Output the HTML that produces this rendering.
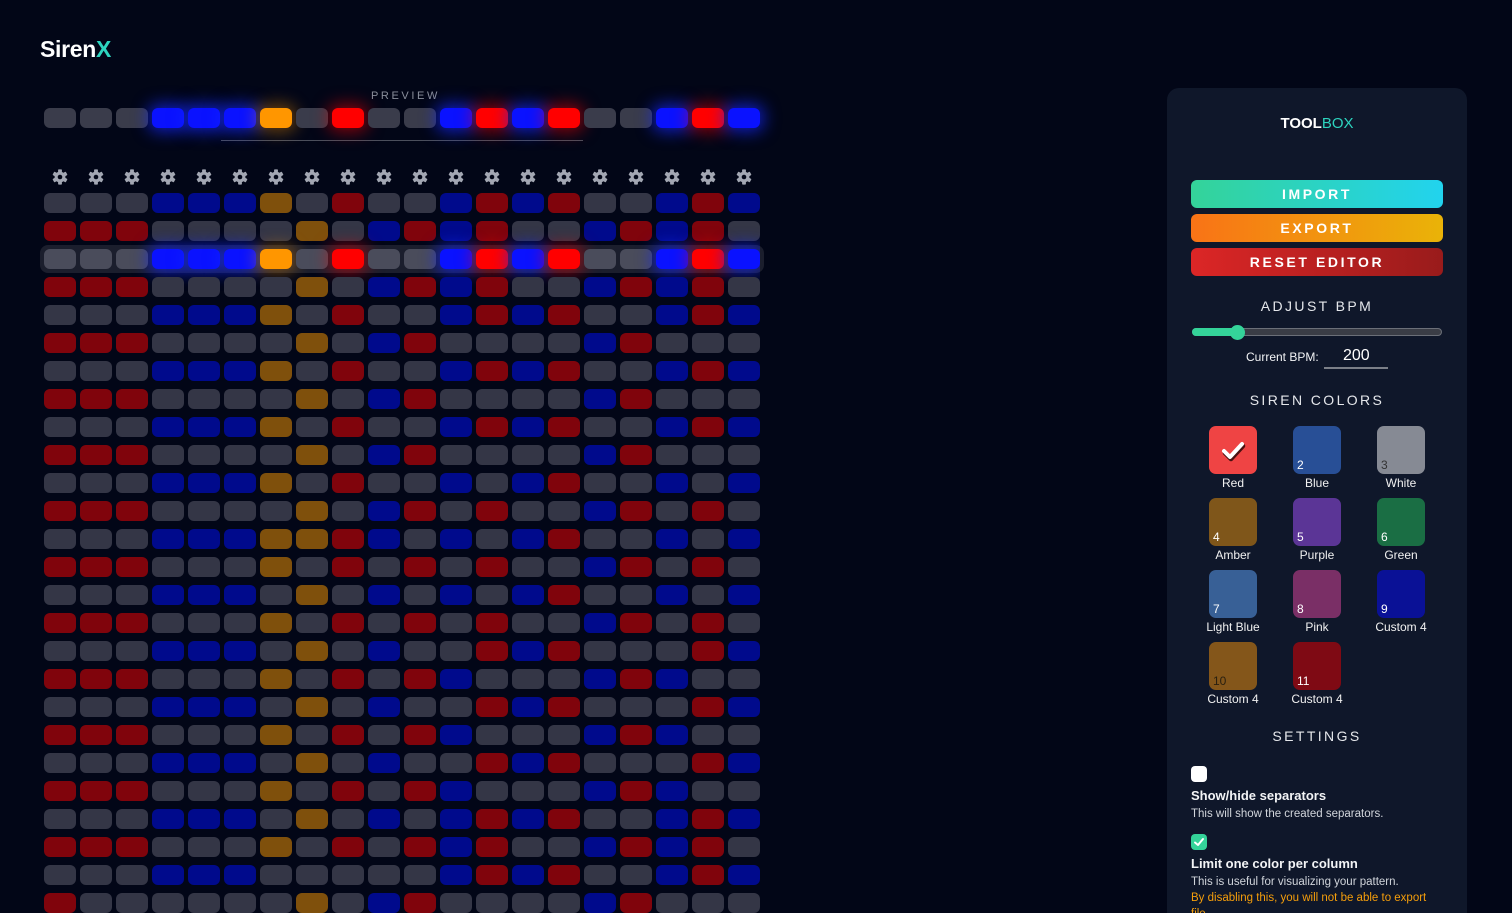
<!DOCTYPE html>
<html><head><meta charset="utf-8">
<style>
*{box-sizing:border-box;margin:0;padding:0}
html,body{width:1512px;height:913px;overflow:hidden;background:#020617;font-family:"Liberation Sans",sans-serif;color:#fff}
#root{position:relative;width:1512px;height:913px;overflow:hidden;background:#020617}
.abs{position:absolute}
.row{display:flex;gap:4px;height:20px;margin-bottom:8px}
.row i{display:block;width:32px;height:20px;border-radius:6px}
.g{background:#343646}.b{background:#000a8c}.r{background:#80040c}.a{background:#7f500c}
.pg{background:#3a3c4b}.pb{background:#0a12ff;box-shadow:0 0 16px 4px rgba(20,40,255,.7)}
.pr{background:#ff0000;box-shadow:0 0 16px 4px rgba(255,0,0,.5)}.pa{background:#ff9600;box-shadow:0 0 16px 4px rgba(255,150,0,.4)}
.hg{background:#4a4c5b}
.btn{position:absolute;left:1191px;width:252px;height:28px;border-radius:6px;text-align:center;font-weight:bold;font-size:14px;letter-spacing:2.6px;line-height:28px;color:#fff}
.hd{position:absolute;left:1167px;width:300px;text-align:center;font-size:14px;letter-spacing:2.4px;color:#e5e7eb}
.sw{position:absolute;width:48px;height:48px;border-radius:7px}
.sw span{position:absolute;left:4px;bottom:2px;font-size:12px;color:#fff}
.lb{position:absolute;width:84px;text-align:center;font-size:12px;color:#f1f1f1}
.st{position:absolute;left:1191px;white-space:nowrap}
</style></head><body><div id="root">

<div class="abs" style="left:40px;top:36px;font-size:23px;font-weight:bold;letter-spacing:-0.3px"><span style="color:#fff">Siren</span><span style="color:#2dd4bf">X</span></div>

<div class="abs" style="left:371px;top:90px;font-size:11px;letter-spacing:2.6px;color:#8a8f9c">PREVIEW</div>
<div class="abs" style="left:221px;top:140px;width:362px;height:1px;background:#4b4f5c"></div>

<div class="abs" style="left:44px;top:108px">
<div class="row"><i class="pg"></i><i class="pg"></i><i class="pg"></i><i class="pb"></i><i class="pb"></i><i class="pb"></i><i class="pa"></i><i class="pg"></i><i class="pr"></i><i class="pg"></i><i class="pg"></i><i class="pb"></i><i class="pr"></i><i class="pb"></i><i class="pr"></i><i class="pg"></i><i class="pg"></i><i class="pb"></i><i class="pr"></i><i class="pb"></i></div>
</div>

<svg class="abs" style="left:0;top:0" width="780" height="200">
<defs><symbol id="gear" viewBox="-8 -8 16 16"><g fill="#a3a7b3"><circle r="5.4"/><rect x="-1.9" y="-7.6" width="3.8" height="15.2" rx="0.7"/><rect x="-1.9" y="-7.6" width="3.8" height="15.2" rx="0.7" transform="rotate(60)"/><rect x="-1.9" y="-7.6" width="3.8" height="15.2" rx="0.7" transform="rotate(120)"/></g><circle r="2.3" fill="#020617"/></symbol></defs>
<use href="#gear" x="52" y="169" width="16" height="16"/><use href="#gear" x="88" y="169" width="16" height="16"/><use href="#gear" x="124" y="169" width="16" height="16"/><use href="#gear" x="160" y="169" width="16" height="16"/><use href="#gear" x="196" y="169" width="16" height="16"/><use href="#gear" x="232" y="169" width="16" height="16"/><use href="#gear" x="268" y="169" width="16" height="16"/><use href="#gear" x="304" y="169" width="16" height="16"/><use href="#gear" x="340" y="169" width="16" height="16"/><use href="#gear" x="376" y="169" width="16" height="16"/><use href="#gear" x="412" y="169" width="16" height="16"/><use href="#gear" x="448" y="169" width="16" height="16"/><use href="#gear" x="484" y="169" width="16" height="16"/><use href="#gear" x="520" y="169" width="16" height="16"/><use href="#gear" x="556" y="169" width="16" height="16"/><use href="#gear" x="592" y="169" width="16" height="16"/><use href="#gear" x="628" y="169" width="16" height="16"/><use href="#gear" x="664" y="169" width="16" height="16"/><use href="#gear" x="700" y="169" width="16" height="16"/><use href="#gear" x="736" y="169" width="16" height="16"/>
</svg>

<div class="abs" style="left:40px;top:245px;width:724px;height:28px;background:#1b1e2d;border-radius:8px"></div>

<div class="abs" style="left:44px;top:193px;height:720px;overflow:hidden">
<div class="row"><i class="g"></i><i class="g"></i><i class="g"></i><i class="b"></i><i class="b"></i><i class="b"></i><i class="a"></i><i class="g"></i><i class="r"></i><i class="g"></i><i class="g"></i><i class="b"></i><i class="r"></i><i class="b"></i><i class="r"></i><i class="g"></i><i class="g"></i><i class="b"></i><i class="r"></i><i class="b"></i></div>
<div class="row"><i class="r"></i><i class="r"></i><i class="r"></i><i class="g"></i><i class="g"></i><i class="g"></i><i class="g"></i><i class="a"></i><i class="g"></i><i class="b"></i><i class="r"></i><i class="b"></i><i class="r"></i><i class="g"></i><i class="g"></i><i class="b"></i><i class="r"></i><i class="b"></i><i class="r"></i><i class="g"></i></div>
<div class="row"><i class="hg"></i><i class="hg"></i><i class="hg"></i><i class="pb"></i><i class="pb"></i><i class="pb"></i><i class="pa"></i><i class="hg"></i><i class="pr"></i><i class="hg"></i><i class="hg"></i><i class="pb"></i><i class="pr"></i><i class="pb"></i><i class="pr"></i><i class="hg"></i><i class="hg"></i><i class="pb"></i><i class="pr"></i><i class="pb"></i></div>
<div class="row"><i class="r"></i><i class="r"></i><i class="r"></i><i class="g"></i><i class="g"></i><i class="g"></i><i class="g"></i><i class="a"></i><i class="g"></i><i class="b"></i><i class="r"></i><i class="b"></i><i class="r"></i><i class="g"></i><i class="g"></i><i class="b"></i><i class="r"></i><i class="b"></i><i class="r"></i><i class="g"></i></div>
<div class="row"><i class="g"></i><i class="g"></i><i class="g"></i><i class="b"></i><i class="b"></i><i class="b"></i><i class="a"></i><i class="g"></i><i class="r"></i><i class="g"></i><i class="g"></i><i class="b"></i><i class="r"></i><i class="b"></i><i class="r"></i><i class="g"></i><i class="g"></i><i class="b"></i><i class="r"></i><i class="b"></i></div>
<div class="row"><i class="r"></i><i class="r"></i><i class="r"></i><i class="g"></i><i class="g"></i><i class="g"></i><i class="g"></i><i class="a"></i><i class="g"></i><i class="b"></i><i class="r"></i><i class="g"></i><i class="g"></i><i class="g"></i><i class="g"></i><i class="b"></i><i class="r"></i><i class="g"></i><i class="g"></i><i class="g"></i></div>
<div class="row"><i class="g"></i><i class="g"></i><i class="g"></i><i class="b"></i><i class="b"></i><i class="b"></i><i class="a"></i><i class="g"></i><i class="r"></i><i class="g"></i><i class="g"></i><i class="b"></i><i class="r"></i><i class="b"></i><i class="r"></i><i class="g"></i><i class="g"></i><i class="b"></i><i class="r"></i><i class="b"></i></div>
<div class="row"><i class="r"></i><i class="r"></i><i class="r"></i><i class="g"></i><i class="g"></i><i class="g"></i><i class="g"></i><i class="a"></i><i class="g"></i><i class="b"></i><i class="r"></i><i class="g"></i><i class="g"></i><i class="g"></i><i class="g"></i><i class="b"></i><i class="r"></i><i class="g"></i><i class="g"></i><i class="g"></i></div>
<div class="row"><i class="g"></i><i class="g"></i><i class="g"></i><i class="b"></i><i class="b"></i><i class="b"></i><i class="a"></i><i class="g"></i><i class="r"></i><i class="g"></i><i class="g"></i><i class="b"></i><i class="r"></i><i class="b"></i><i class="r"></i><i class="g"></i><i class="g"></i><i class="b"></i><i class="r"></i><i class="b"></i></div>
<div class="row"><i class="r"></i><i class="r"></i><i class="r"></i><i class="g"></i><i class="g"></i><i class="g"></i><i class="g"></i><i class="a"></i><i class="g"></i><i class="b"></i><i class="r"></i><i class="g"></i><i class="g"></i><i class="g"></i><i class="g"></i><i class="b"></i><i class="r"></i><i class="g"></i><i class="g"></i><i class="g"></i></div>
<div class="row"><i class="g"></i><i class="g"></i><i class="g"></i><i class="b"></i><i class="b"></i><i class="b"></i><i class="a"></i><i class="g"></i><i class="r"></i><i class="g"></i><i class="g"></i><i class="b"></i><i class="g"></i><i class="b"></i><i class="r"></i><i class="g"></i><i class="g"></i><i class="b"></i><i class="g"></i><i class="b"></i></div>
<div class="row"><i class="r"></i><i class="r"></i><i class="r"></i><i class="g"></i><i class="g"></i><i class="g"></i><i class="g"></i><i class="a"></i><i class="g"></i><i class="b"></i><i class="r"></i><i class="g"></i><i class="r"></i><i class="g"></i><i class="g"></i><i class="b"></i><i class="r"></i><i class="g"></i><i class="r"></i><i class="g"></i></div>
<div class="row"><i class="g"></i><i class="g"></i><i class="g"></i><i class="b"></i><i class="b"></i><i class="b"></i><i class="a"></i><i class="a"></i><i class="r"></i><i class="b"></i><i class="g"></i><i class="b"></i><i class="g"></i><i class="b"></i><i class="r"></i><i class="g"></i><i class="g"></i><i class="b"></i><i class="g"></i><i class="b"></i></div>
<div class="row"><i class="r"></i><i class="r"></i><i class="r"></i><i class="g"></i><i class="g"></i><i class="g"></i><i class="a"></i><i class="g"></i><i class="r"></i><i class="g"></i><i class="r"></i><i class="g"></i><i class="r"></i><i class="g"></i><i class="g"></i><i class="b"></i><i class="r"></i><i class="g"></i><i class="r"></i><i class="g"></i></div>
<div class="row"><i class="g"></i><i class="g"></i><i class="g"></i><i class="b"></i><i class="b"></i><i class="b"></i><i class="g"></i><i class="a"></i><i class="g"></i><i class="b"></i><i class="g"></i><i class="b"></i><i class="g"></i><i class="b"></i><i class="r"></i><i class="g"></i><i class="g"></i><i class="b"></i><i class="g"></i><i class="b"></i></div>
<div class="row"><i class="r"></i><i class="r"></i><i class="r"></i><i class="g"></i><i class="g"></i><i class="g"></i><i class="a"></i><i class="g"></i><i class="r"></i><i class="g"></i><i class="r"></i><i class="g"></i><i class="r"></i><i class="g"></i><i class="g"></i><i class="b"></i><i class="r"></i><i class="g"></i><i class="r"></i><i class="g"></i></div>
<div class="row"><i class="g"></i><i class="g"></i><i class="g"></i><i class="b"></i><i class="b"></i><i class="b"></i><i class="g"></i><i class="a"></i><i class="g"></i><i class="b"></i><i class="g"></i><i class="g"></i><i class="r"></i><i class="b"></i><i class="r"></i><i class="g"></i><i class="g"></i><i class="g"></i><i class="r"></i><i class="b"></i></div>
<div class="row"><i class="r"></i><i class="r"></i><i class="r"></i><i class="g"></i><i class="g"></i><i class="g"></i><i class="a"></i><i class="g"></i><i class="r"></i><i class="g"></i><i class="r"></i><i class="b"></i><i class="g"></i><i class="g"></i><i class="g"></i><i class="b"></i><i class="r"></i><i class="b"></i><i class="g"></i><i class="g"></i></div>
<div class="row"><i class="g"></i><i class="g"></i><i class="g"></i><i class="b"></i><i class="b"></i><i class="b"></i><i class="g"></i><i class="a"></i><i class="g"></i><i class="b"></i><i class="g"></i><i class="g"></i><i class="r"></i><i class="b"></i><i class="r"></i><i class="g"></i><i class="g"></i><i class="g"></i><i class="r"></i><i class="b"></i></div>
<div class="row"><i class="r"></i><i class="r"></i><i class="r"></i><i class="g"></i><i class="g"></i><i class="g"></i><i class="a"></i><i class="g"></i><i class="r"></i><i class="g"></i><i class="r"></i><i class="b"></i><i class="g"></i><i class="g"></i><i class="g"></i><i class="b"></i><i class="r"></i><i class="b"></i><i class="g"></i><i class="g"></i></div>
<div class="row"><i class="g"></i><i class="g"></i><i class="g"></i><i class="b"></i><i class="b"></i><i class="b"></i><i class="g"></i><i class="a"></i><i class="g"></i><i class="b"></i><i class="g"></i><i class="g"></i><i class="r"></i><i class="b"></i><i class="r"></i><i class="g"></i><i class="g"></i><i class="g"></i><i class="r"></i><i class="b"></i></div>
<div class="row"><i class="r"></i><i class="r"></i><i class="r"></i><i class="g"></i><i class="g"></i><i class="g"></i><i class="a"></i><i class="g"></i><i class="r"></i><i class="g"></i><i class="r"></i><i class="b"></i><i class="g"></i><i class="g"></i><i class="g"></i><i class="b"></i><i class="r"></i><i class="b"></i><i class="g"></i><i class="g"></i></div>
<div class="row"><i class="g"></i><i class="g"></i><i class="g"></i><i class="b"></i><i class="b"></i><i class="b"></i><i class="g"></i><i class="a"></i><i class="g"></i><i class="b"></i><i class="g"></i><i class="b"></i><i class="r"></i><i class="b"></i><i class="r"></i><i class="g"></i><i class="g"></i><i class="b"></i><i class="r"></i><i class="b"></i></div>
<div class="row"><i class="r"></i><i class="r"></i><i class="r"></i><i class="g"></i><i class="g"></i><i class="g"></i><i class="a"></i><i class="g"></i><i class="r"></i><i class="g"></i><i class="r"></i><i class="b"></i><i class="r"></i><i class="g"></i><i class="g"></i><i class="b"></i><i class="r"></i><i class="b"></i><i class="r"></i><i class="g"></i></div>
<div class="row"><i class="g"></i><i class="g"></i><i class="g"></i><i class="b"></i><i class="b"></i><i class="b"></i><i class="g"></i><i class="g"></i><i class="g"></i><i class="g"></i><i class="g"></i><i class="b"></i><i class="r"></i><i class="b"></i><i class="r"></i><i class="g"></i><i class="g"></i><i class="b"></i><i class="r"></i><i class="b"></i></div>
<div class="row"><i class="r"></i><i class="g"></i><i class="g"></i><i class="g"></i><i class="g"></i><i class="g"></i><i class="g"></i><i class="a"></i><i class="g"></i><i class="b"></i><i class="r"></i><i class="g"></i><i class="g"></i><i class="g"></i><i class="g"></i><i class="b"></i><i class="r"></i><i class="g"></i><i class="g"></i><i class="g"></i></div>
</div>

<!-- Toolbox panel -->
<div class="abs" style="left:1167px;top:88px;width:300px;height:840px;background:#0f172a;border-radius:12px"></div>
<div class="abs" style="left:1167px;top:115px;width:300px;text-align:center;font-size:15px"><b style="color:#fff">TOOL</b><span style="color:#2dd4bf">BOX</span></div>

<div class="btn" style="top:180px;background:linear-gradient(90deg,#34d399,#22d3ee)">IMPORT</div>
<div class="btn" style="top:214px;background:linear-gradient(90deg,#f97316,#eab308)">EXPORT</div>
<div class="btn" style="top:248px;background:linear-gradient(90deg,#dc2626,#991b1b)">RESET EDITOR</div>

<div class="hd" style="top:298px">ADJUST BPM</div>
<div class="abs" style="left:1192px;top:328px;width:250px;height:8px;border-radius:4px;background:#3a3d46;border:1px solid #6b6f78"></div>
<div class="abs" style="left:1192px;top:328px;width:46px;height:8px;border-radius:4px 0 0 4px;background:#34d399"></div>
<div class="abs" style="left:1230px;top:325px;width:15px;height:15px;border-radius:50%;background:#34d399"></div>
<div class="abs" style="left:1246px;top:350px;font-size:12px;color:#f3f4f6">Current BPM:</div>
<div class="abs" style="left:1343px;top:347px;font-size:16px;color:#fff">200</div>
<div class="abs" style="left:1324px;top:367px;width:64px;height:2px;background:#7b7f88"></div>

<div class="hd" style="top:392px">SIREN COLORS</div>

<div class="sw" style="left:1209px;top:426px;background:#ef4444"><svg width="48" height="48"><polyline points="15,25 21,31 33,18" fill="none" stroke="#4a1010" stroke-width="4.5" stroke-linecap="round" stroke-linejoin="round" transform="translate(1,2)"/><polyline points="15,25 21,31 33,18" fill="none" stroke="#fff" stroke-width="4" stroke-linecap="round" stroke-linejoin="round"/></svg></div>
<div class="sw" style="left:1293px;top:426px;background:#284f96"><span>2</span></div>
<div class="sw" style="left:1377px;top:426px;background:#868a94"><span style="color:#333">3</span></div>
<div class="lb" style="left:1191px;top:476px">Red</div>
<div class="lb" style="left:1275px;top:476px">Blue</div>
<div class="lb" style="left:1359px;top:476px">White</div>

<div class="sw" style="left:1209px;top:498px;background:#7f561a"><span>4</span></div>
<div class="sw" style="left:1293px;top:498px;background:#5b3596"><span>5</span></div>
<div class="sw" style="left:1377px;top:498px;background:#1a6e44"><span>6</span></div>
<div class="lb" style="left:1191px;top:548px">Amber</div>
<div class="lb" style="left:1275px;top:548px">Purple</div>
<div class="lb" style="left:1359px;top:548px">Green</div>

<div class="sw" style="left:1209px;top:570px;background:#386096"><span>7</span></div>
<div class="sw" style="left:1293px;top:570px;background:#7a2f66"><span>8</span></div>
<div class="sw" style="left:1377px;top:570px;background:#0a1196"><span>9</span></div>
<div class="lb" style="left:1191px;top:620px">Light Blue</div>
<div class="lb" style="left:1275px;top:620px">Pink</div>
<div class="lb" style="left:1359px;top:620px">Custom 4</div>

<div class="sw" style="left:1209px;top:642px;background:#84561a"><span style="color:#2a2010">10</span></div>
<div class="sw" style="left:1293px;top:642px;background:#7f0a14"><span>11</span></div>
<div class="lb" style="left:1191px;top:692px">Custom 4</div>
<div class="lb" style="left:1275px;top:692px">Custom 4</div>

<div class="hd" style="top:728px">SETTINGS</div>

<div class="abs" style="left:1191px;top:766px;width:16px;height:16px;border-radius:4px;background:#fff"></div>
<div class="st" style="top:788px;font-size:13px;font-weight:bold;color:#f3f4f6">Show/hide separators</div>
<div class="st" style="top:808px;font-size:11.5px;color:#d1d5db">This will show the created separators.</div>
<div class="abs" style="left:1191px;top:834px;width:16px;height:16px;border-radius:4px;background:#34d399"><svg width="16" height="16"><polyline points="4,8.5 7,11 12,5" fill="none" stroke="#fff" stroke-width="2" stroke-linecap="round" stroke-linejoin="round"/></svg></div>
<div class="st" style="top:856px;font-size:13px;font-weight:bold;color:#f3f4f6">Limit one color per column</div>
<div class="st" style="top:876px;font-size:11.5px;color:#d1d5db">This is useful for visualizing your pattern.</div>
<div class="st" style="top:892px;font-size:11.5px;color:#f59e0b">By disabling this, you will not be able to export</div>
<div class="st" style="top:908px;font-size:11.5px;color:#f59e0b">file</div>

</div></body></html>
